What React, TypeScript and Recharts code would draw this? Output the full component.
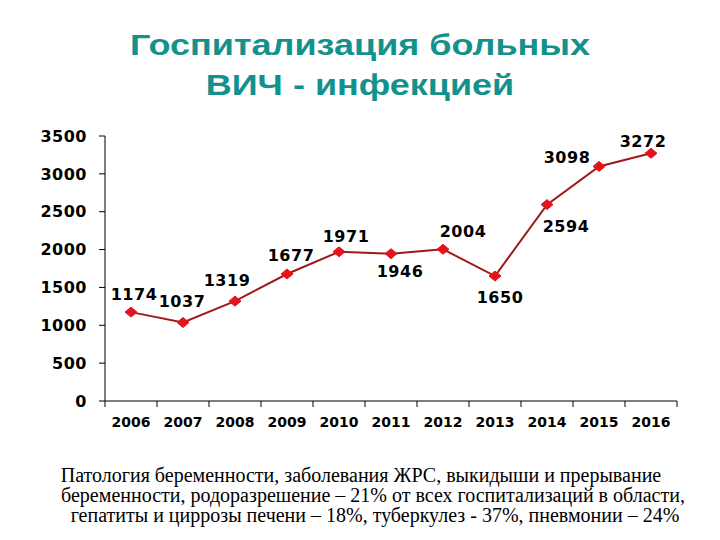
import { LineChart, Line, XAxis, YAxis, LabelList } from "recharts";

// Hospitalisations of HIV patients per year.
const years = ["2006", "2007", "2008", "2009", "2010", "2011", "2012", "2013", "2014", "2015", "2016"];
const patients = [1174, 1037, 1319, 1677, 1971, 1946, 2004, 1650, 2594, 3098, 3272];
const yTicks = [0, 500, 1000, 1500, 2000, 2500, 3000, 3500];

// where each value label sits relative to its point (px)
const labelDx = [3, -1, -8, 4, 7, 9, 20, 5, 19, -32, -8];
const labelDy = [-18, -21, -21, -19, -15, 18, -18, 21, 22, -9, -12];

const footLines = [
  "Патология беременности, заболевания ЖРС, выкидыши и прерывание",
  "беременности, родоразрешение – 21% от всех госпитализаций в области,",
  "гепатиты и циррозы печени – 18%, туберкулез - 37%, пневмонии – 24%",
];
const footShift = [1, 13, 15];

const data = years.map((year, i) => ({ year, value: patients[i] }));

const TITLE_COLOR = "#13918c";
const LINE_COLOR = "#9e1a1a";
const DOT_COLOR = "#e3141c";
const NUM_FONT = "'DejaVu Sans', Verdana, sans-serif";
const BAND = 52;

function Diamond(props: any) {
  const { cx, cy } = props;
  if (cx == null || cy == null) return null;
  return (
    <polygon
      points={`${cx - 6},${cy} ${cx},${cy - 5} ${cx + 6},${cy} ${cx},${cy + 5}`}
      fill={DOT_COLOR}
      stroke={DOT_COLOR}
      strokeWidth={1}
    />
  );
}

function YearTick(props: any) {
  const { x, y, payload, index } = props;
  const last = index === years.length - 1;
  return (
    <g>
      <line x1={x - BAND / 2} y1={y - 8} x2={x - BAND / 2} y2={y - 2} stroke="#000" />
      {last && <line x1={x + BAND / 2} y1={y - 8} x2={x + BAND / 2} y2={y - 2} stroke="#000" />}
      <text
        x={x}
        y={y + 13}
        textAnchor="middle"
        dominantBaseline="central"
        fontFamily={NUM_FONT}
        fontWeight="bold"
        fontSize={14}
        fill="#000"
      >
        {payload.value}
      </text>
    </g>
  );
}

function ValueLabel(props: any) {
  const { x, y, value, index } = props;
  return (
    <text
      x={x + labelDx[index]}
      y={y + labelDy[index]}
      textAnchor="middle"
      dominantBaseline="central"
      fontFamily={NUM_FONT}
      fontWeight="bold"
      fontSize={16}
      letterSpacing={0.5}
      fill="#000"
    >
      {value}
    </text>
  );
}

export default function App() {
  return (
    <div style={{ position: "relative", width: 720, height: 540, margin: -8, background: "#fff", overflow: "hidden" }}>
      <div
        style={{
          position: "absolute",
          top: 25,
          left: 0,
          width: 720,
          textAlign: "center",
          color: TITLE_COLOR,
          fontFamily: "'Liberation Sans', Arial, sans-serif",
          fontWeight: "bold",
          fontSize: 30,
          lineHeight: "40px",
          transform: "scaleX(1.2)",
          transformOrigin: "360px 0",
        }}
      >
        Госпитализация больных
        <br />
        ВИЧ - инфекцией
      </div>

      <div style={{ position: "absolute", top: 0, left: 0 }}>
        <LineChart width={720} height={450} data={data} margin={{ top: 136, right: 43, bottom: 19, left: 45 }}>
          <XAxis
            dataKey="year"
            padding={{ left: BAND / 2, right: BAND / 2 }}
            axisLine={{ stroke: "#000" }}
            tickLine={false}
            tick={<YearTick />}
            height={30}
            interval={0}
          />
          <YAxis
            domain={[0, 3500]}
            ticks={yTicks}
            width={60}
            axisLine={{ stroke: "#000" }}
            tickLine={{ stroke: "#000" }}
            tickSize={6}
            tickMargin={12}
            tick={{ fill: "#000", fontFamily: NUM_FONT, fontWeight: "bold", fontSize: 16, letterSpacing: 0.5 }}
          />
          <Line
            dataKey="value"
            stroke={LINE_COLOR}
            strokeWidth={2}
            dot={<Diamond />}
            activeDot={false}
            isAnimationActive={false}
          >
            <LabelList dataKey="value" content={<ValueLabel />} />
          </Line>
        </LineChart>
      </div>

      <div
        style={{
          position: "absolute",
          top: 465,
          left: 0,
          width: 720,
          fontFamily: "'Liberation Serif', 'Times New Roman', serif",
          fontSize: 20,
          lineHeight: "20px",
          color: "#000",
        }}
      >
        {footLines.map((line, i) => (
          <div key={i} style={{ textAlign: "center", whiteSpace: "nowrap", position: "relative", left: footShift[i] }}>
            {line}
          </div>
        ))}
      </div>
    </div>
  );
}
